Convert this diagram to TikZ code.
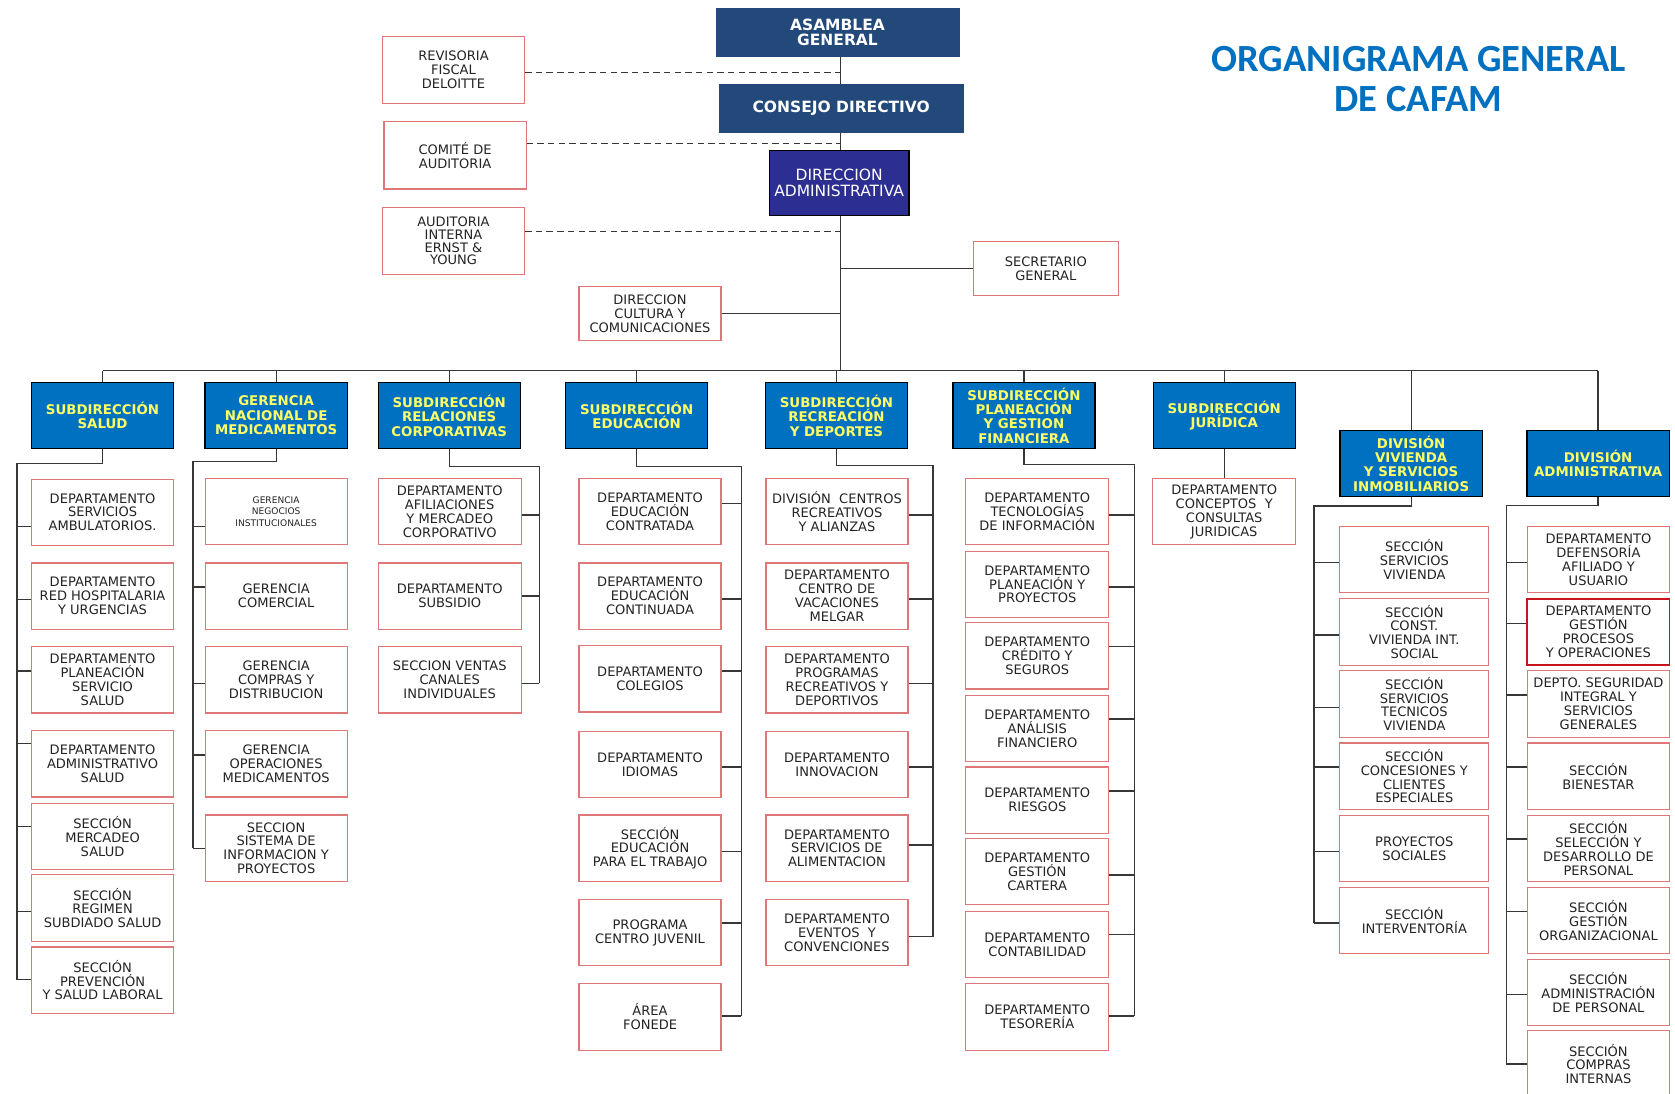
\documentclass[tikz,border=0pt]{standalone}
\usepackage{fontspec}
\setmainfont{DejaVu Sans}
\newfontfamily\titlefont{Carlito}
\usetikzlibrary{positioning,calc}

\definecolor{govblue}{RGB}{35,73,122}
\definecolor{dirblue}{RGB}{44,46,145}
\definecolor{headblue}{RGB}{0,112,192}
\definecolor{headyellow}{RGB}{255,255,102}
\definecolor{unitred}{RGB}{222,120,120}
\definecolor{procred}{RGB}{200,20,30}
\definecolor{linegray}{RGB}{55,55,55}
\definecolor{textdark}{RGB}{35,35,35}
\definecolor{titleblue}{RGB}{0,112,192}

\begin{document}
\begin{tikzpicture}[x=1pt,y=-1pt,
    conn/.style={draw=linegray, line width=1.2pt},
    dashconn/.style={draw=linegray, line width=1.2pt, dash pattern=on 6pt off 4pt},
    unitbox/.style={draw=unitred, line width=1.1pt, fill=white, text=textdark,
        minimum width=133pt, minimum height=62pt, inner sep=0pt, align=center,
        font=\fontsize{12.2}{13}\selectfont},
    headbox/.style={draw=black, line width=1.2pt, fill=headblue, text=headyellow,
        minimum width=133pt, minimum height=62pt, inner sep=0pt, align=center,
        font=\bfseries\fontsize{12.5}{13.5}\selectfont},
    govbox/.style={fill=govblue, draw=govblue, text=white, inner sep=0pt,
        minimum height=45pt, align=center, font=\bfseries\fontsize{14.5}{14}\selectfont},
    dirbox/.style={fill=dirblue, draw=black, line width=1.2pt, text=white, inner sep=0pt,
        minimum width=131pt, minimum height=61pt, align=center,
        font=\fontsize{14.5}{15}\selectfont},
    titletext/.style={text=titleblue, align=center,
        font=\titlefont\bfseries\fontsize{36}{38}\selectfont}]

    \fill[white] (0,0) rectangle (1568,1024);
    \useasboundingbox (0,0) rectangle (1568,1024);

    % title
    \node[titletext] at (1328,74) (title) {ORGANIGRAMA GENERAL\\DE CAFAM};

    % governing bodies
    \node[govbox, minimum width=228pt] at (784,30.5) (asam) {ASAMBLEA\\GENERAL};
    \node[govbox, minimum width=229pt] at (787.5,101.5) (cons) {CONSEJO DIRECTIVO};
    \node[dirbox] at (785.5,171.5) (dir) {DIRECCION\\ADMINISTRATIVA};
    \coordinate (bus) at (787,347);

    % control and staff units
    \node[unitbox, minimum height=63pt] at (424.5,65.5) (rev) {REVISORIA\\FISCAL\\DELOITTE};
    \node[unitbox, minimum height=63pt] at (426,145.5) (com) {COMITÉ DE\\AUDITORIA};
    \node[unitbox, minimum height=63pt, font=\fontsize{12.2}{12}\selectfont] at (424.5,225.5) (aud) {AUDITORIA\\INTERNA\\ERNST \&\\YOUNG};
    \node[unitbox, minimum width=136pt, minimum height=51pt] at (979,251.5) (sec) {SECRETARIO\\GENERAL};
    \node[unitbox, minimum height=51pt] at (608.5,293.5) (cul) {DIRECCION\\CULTURA Y\\COMUNICACIONES};

    \draw[conn] (asam.south -| bus) -- (cons.north -| bus);
    \draw[conn] (cons.south -| bus) -- (dir.north -| bus);
    \draw[conn] (dir.south -| bus) -- (bus);
    \draw[dashconn] (rev.east |- 0,68) -- (bus |- 0,68);
    \draw[dashconn] (com.east |- 0,134) -- (bus |- 0,134);
    \draw[dashconn] (aud.east |- 0,217) -- (bus |- 0,217);
    \draw[conn] (sec.west) -- (sec.west -| bus);
    \draw[conn] (cul.east) -- (cul.east -| bus);

    % second level
    \foreach \nm/\xx/\yy/\txt in {
        sal/96/389/{SUBDIRECCIÓN\\SALUD},
        med/258.5/389/{GERENCIA\\NACIONAL DE\\MEDICAMENTOS},
        rel/420.5/389/{SUBDIRECCIÓN\\RELACIONES\\CORPORATIVAS},
        edu/596/389/{SUBDIRECCIÓN\\EDUCACIÓN},
        rec/783/389/{SUBDIRECCIÓN\\RECREACIÓN\\Y DEPORTES},
        pla/958.5/389/{SUBDIRECCIÓN\\PLANEACIÓN\\Y GESTION\\FINANCIERA},
        jur/1146/389/{SUBDIRECCIÓN\\JURÍDICA},
        viv/1321/434/{DIVISIÓN\\VIVIENDA\\Y SERVICIOS\\INMOBILIARIOS},
        adm/1496/434/{DIVISIÓN\\ADMINISTRATIVA}}
    {%
    \node[headbox] at (\xx,\yy) (\nm) {\txt};
    }%

    % connections to the bus
    \draw[conn] (sal.north |- bus) -- (adm.north |- bus);
    \foreach \nm in {sal,med,rel,edu,rec,pla,jur,viv,adm}
        \draw[conn] (\nm.north |- bus) -- (\nm.north);

    % salud
    \coordinate (salR) at (16,434);
    \draw[conn] (sal.south) |- (salR) -- (salR |- 0,917);
    \foreach \i/\yy/\ys/\txt in {
        1/479.5/493/{DEPARTAMENTO\\SERVICIOS\\AMBULATORIOS.},
        2/558/561/{DEPARTAMENTO\\RED HOSPITALARIA\\Y URGENCIAS},
        3/636.5/628/{DEPARTAMENTO\\PLANEACIÓN\\SERVICIO\\SALUD},
        4/715/696/{DEPARTAMENTO\\ADMINISTRATIVO\\SALUD},
        5/783/774/{SECCIÓN\\MERCADEO\\SALUD},
        6/850/853/{SECCIÓN\\REGIMEN\\SUBDIADO SALUD},
        7/917.5/917/{SECCIÓN\\PREVENCIÓN\\Y SALUD LABORAL}}
    {%
    \node[unitbox] at (96,\yy) (sal\i) {\txt};
    \draw[conn] (salR |- 0,\ys) -- (sal\i.west |- 0,\ys);
    }%

    % medicamentos
    \coordinate (medR) at (180.6,432);
    \draw[conn] (med.south) |- (medR) -- (medR |- 0,794);
    \node[unitbox, font=\fontsize{8.5}{10.5}\selectfont] at (258.5,479) (med1) {GERENCIA\\NEGOCIOS\\INSTITUCIONALES};
    \draw[conn] (medR |- 0,493) -- (med1.west |- 0,493);
    \foreach \i/\yy/\ys/\txt in {
        2/558/549.6/{GERENCIA\\COMERCIAL},
        3/636.5/639.5/{GERENCIA\\COMPRAS Y\\DISTRIBUCION},
        4/715/706.8/{GERENCIA\\OPERACIONES\\MEDICAMENTOS},
        5/794/794/{SECCION\\SISTEMA DE\\INFORMACION Y\\PROYECTOS}}
    {%
    \node[unitbox] at (258.5,\yy) (med\i) {\txt};
    \draw[conn] (medR |- 0,\ys) -- (med\i.west |- 0,\ys);
    }%

    % relaciones corporativas
    \coordinate (relR) at (505,437);
    \draw[conn] (rel.south) |- (relR) -- (relR |- 0,639.5);
    \foreach \i/\yy/\ys/\txt in {
        1/479/482/{DEPARTAMENTO\\AFILIACIONES\\Y MERCADEO\\CORPORATIVO},
        2/558/558/{DEPARTAMENTO\\SUBSIDIO},
        3/636.5/639.5/{SECCION VENTAS\\CANALES\\INDIVIDUALES}}
    {%
    \node[unitbox, minimum width=134pt] at (421,\yy) (rel\i) {\txt};
    \draw[conn] (rel\i.east |- 0,\ys) -- (relR |- 0,\ys);
    }%

    % educacion
    \coordinate (eduR) at (694,436.5);
    \draw[conn] (edu.south) |- (eduR) -- (eduR |- 0,951);
    \foreach \i/\yy/\ys/\txt in {
        1/479/471/{DEPARTAMENTO\\EDUCACIÓN\\CONTRATADA},
        2/558/560.7/{DEPARTAMENTO\\EDUCACIÓN\\CONTINUADA},
        3/635.5/628/{DEPARTAMENTO\\COLEGIOS},
        4/715.5/718/{DEPARTAMENTO\\IDIOMAS},
        5/794/797/{SECCIÓN\\EDUCACIÓN\\PARA EL TRABAJO},
        6/873/864/{PROGRAMA\\CENTRO JUVENIL},
        7/952/951/{ÁREA\\FONEDE}}
    {%
    \node[unitbox] at (608.5,\yy) (edu\i) {\txt};
    \draw[conn] (edu\i.east |- 0,\ys) -- (eduR |- 0,\ys);
    }%

    % recreacion y deportes
    \coordinate (recR) at (873.5,436);
    \draw[conn] (rec.south) |- (recR) -- (recR |- 0,877);
    \foreach \i/\yy/\ys/\txt in {
        1/479/482/{DIVISIÓN~~CENTROS\\RECREATIVOS\\Y ALIANZAS},
        2/558/560.7/{DEPARTAMENTO\\CENTRO DE\\VACACIONES\\MELGAR},
        3/636.5/639.5/{DEPARTAMENTO\\PROGRAMAS\\RECREATIVOS Y\\DEPORTIVOS},
        4/715.5/718/{DEPARTAMENTO\\INNOVACION},
        5/794/791/{DEPARTAMENTO\\SERVICIOS DE\\ALIMENTACION},
        6/873/877/{DEPARTAMENTO\\EVENTOS~~Y\\CONVENCIONES}}
    {%
    \node[unitbox] at (783.5,\yy) (rec\i) {\txt};
    \draw[conn] (rec\i.east |- 0,\ys) -- (recR |- 0,\ys);
    }%

    % planeacion y gestion financiera
    \coordinate (plaR) at (1062,434.5);
    \draw[conn] (pla.south) |- (plaR) -- (plaR |- 0,951);
    \foreach \i/\yy/\ys/\txt in {
        1/479/482/{DEPARTAMENTO\\TECNOLOGÍAS\\DE INFORMACIÓN},
        2/547/549.6/{DEPARTAMENTO\\PLANEACIÓN Y\\PROYECTOS},
        3/614/605/{DEPARTAMENTO\\CRÉDITO Y\\SEGUROS},
        4/682/673/{DEPARTAMENTO\\ANÁLISIS\\FINANCIERO},
        5/749/740.5/{DEPARTAMENTO\\RIESGOS},
        6/816/819/{DEPARTAMENTO\\GESTIÓN\\CARTERA},
        7/884/875/{DEPARTAMENTO\\CONTABILIDAD},
        8/952/951/{DEPARTAMENTO\\TESORERÍA}}
    {%
    \node[unitbox, minimum width=134pt] at (971,\yy) (pla\i) {\txt};
    \draw[conn] (pla\i.east |- 0,\ys) -- (plaR |- 0,\ys);
    }%

    % juridica
    \node[unitbox, minimum width=134pt] at (1146,479) (jur1) {DEPARTAMENTO\\CONCEPTOS~~Y\\CONSULTAS\\JURIDICAS};
    \draw[conn] (jur.south) -- (jur1.north);

    % vivienda
    \coordinate (vivR) at (1230,473.7);
    \draw[conn] (viv.south) |- (vivR) -- (vivR |- 0,864);
    \foreach \i/\yy/\ys/\txt in {
        1/524/526.7/{SECCIÓN\\SERVICIOS\\VIVIENDA},
        2/591.6/594.5/{SECCIÓN\\CONST.\\VIVIENDA INT.\\SOCIAL},
        3/659/662/{SECCIÓN\\SERVICIOS\\TECNICOS\\VIVIENDA},
        4/726.6/718/{SECCIÓN\\CONCESIONES Y\\CLIENTES\\ESPECIALES},
        5/794.2/797/{PROYECTOS\\SOCIALES},
        6/861.8/864/{SECCIÓN\\INTERVENTORÍA}}
    {%
    \node[unitbox, minimum width=139.5pt] at (1324,\yy) (viv\i) {\txt};
    \draw[conn] (vivR |- 0,\ys) -- (viv\i.west |- 0,\ys);
    }%

    % division administrativa
    \coordinate (admR) at (1410,473);
    \draw[conn] (adm.south) |- (admR) -- (admR |- 0,996);
    \node[unitbox, draw=procred, line width=1.8pt] at (1496.3,591.6) (adm2) {DEPARTAMENTO\\GESTIÓN\\PROCESOS\\Y OPERACIONES};
    \draw[conn] (admR |- 0,583.5) -- (adm2.west |- 0,583.5);
    \foreach \i/\yy/\ys/\txt in {
        1/524/526.7/{DEPARTAMENTO\\DEFENSORÍA\\AFILIADO Y\\USUARIO},
        3/659/650.6/{DEPTO. SEGURIDAD\\INTEGRAL Y\\SERVICIOS\\GENERALES},
        4/726.6/718/{SECCIÓN\\BIENESTAR},
        5/794.2/785.5/{SECCIÓN\\SELECCIÓN Y\\DESARROLLO DE\\PERSONAL},
        6/861.8/853/{SECCIÓN\\GESTIÓN\\ORGANIZACIONAL},
        7/929/931/{SECCIÓN\\ADMINISTRACIÓN\\DE PERSONAL},
        8/996/996/{SECCIÓN\\COMPRAS\\INTERNAS}}
    {%
    \node[unitbox, minimum width=133.4pt] at (1496.3,\yy) (adm\i) {\txt};
    \draw[conn] (admR |- 0,\ys) -- (adm\i.west |- 0,\ys);
    }%
\end{tikzpicture}
\end{document}
